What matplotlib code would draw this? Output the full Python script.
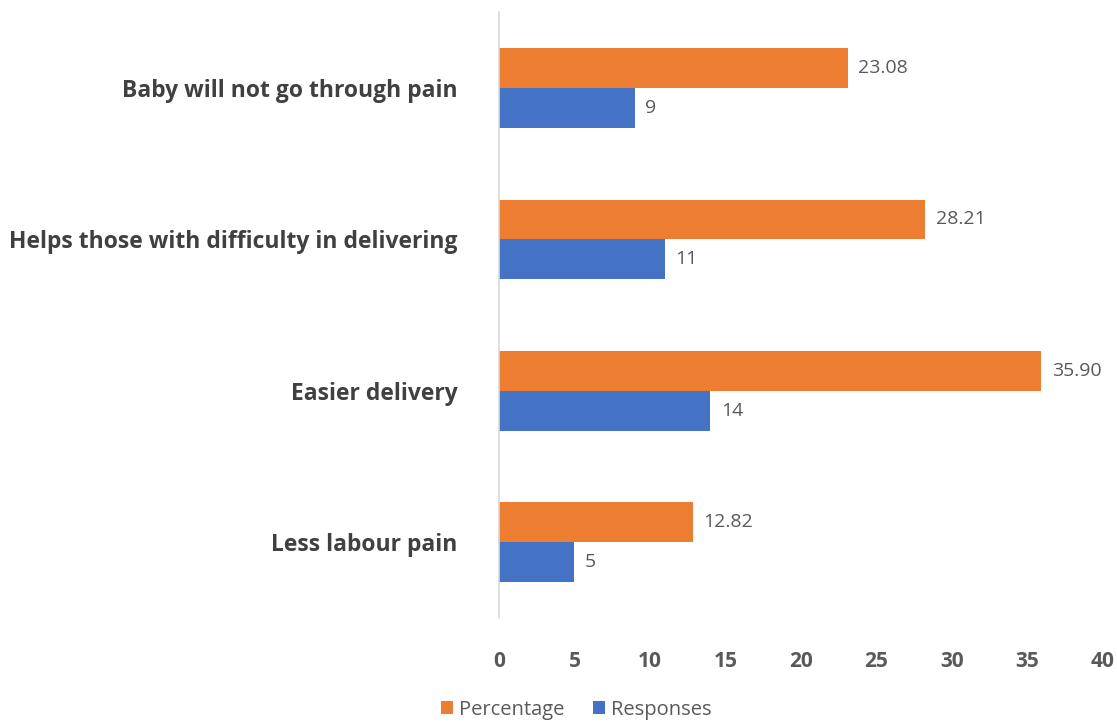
import matplotlib.pyplot as plt
import numpy as np

plt.rcParams["font.family"] = ["Open Sans", "DejaVu Sans"]

categories = ["Less labour pain", "Easier delivery",
              "Helps those with difficulty in delivering", "Baby will not go through pain"]
percentage = [12.82, 35.90, 28.21, 23.08]
responses = [5, 14, 11, 9]
xticks = [0, 5, 10, 15, 20, 25, 30, 35, 40]

ORANGE, BLUE = "#ED7D31", "#4472C4"
TXT = "#595959"

fig = plt.figure(figsize=(11.17, 7.23), dpi=100)
ax = fig.add_axes([0.4467, 0.145, 0.5408, 0.838])

y = np.arange(len(categories))
h = 0.264
ax.barh(y + h / 2, percentage, height=h, color=ORANGE, label="Percentage")
ax.barh(y - h / 2, responses, height=h, color=BLUE, label="Responses")

for yi, p, r in zip(y, percentage, responses):
    ax.text(p + 0.7, yi + h / 2, f"{p:.2f}", va="center", ha="left", fontsize=14, color=TXT)
    ax.text(r + 0.7, yi - h / 2, f"{r}", va="center", ha="left", fontsize=14, color=TXT)

ax.set_xlim(0, 40)
ax.set_ylim(-0.5, 3.5)
ax.set_xticks(xticks)
ax.set_xticklabels([str(t) for t in xticks], fontsize=15, color=TXT, fontweight="bold")
ax.set_yticks(y)
ax.set_yticklabels(categories, fontsize=16.5, color="#404040", fontweight="bold")
ax.tick_params(axis="both", length=0)
ax.tick_params(axis="x", pad=24)
ax.tick_params(axis="y", pad=30)

for s in ["top", "right", "bottom"]:
    ax.spines[s].set_visible(False)
ax.spines["left"].set_color("#D9D9D9")
ax.spines["left"].set_linewidth(1.2)

fig.legend(loc="center", bbox_to_anchor=(0.516, 0.018), ncol=2, frameon=False,
           fontsize=14.5, handlelength=0.6, handleheight=0.6, handletextpad=0.3,
           columnspacing=1.4, labelcolor=TXT)

fig.savefig("out.png", dpi=100)
